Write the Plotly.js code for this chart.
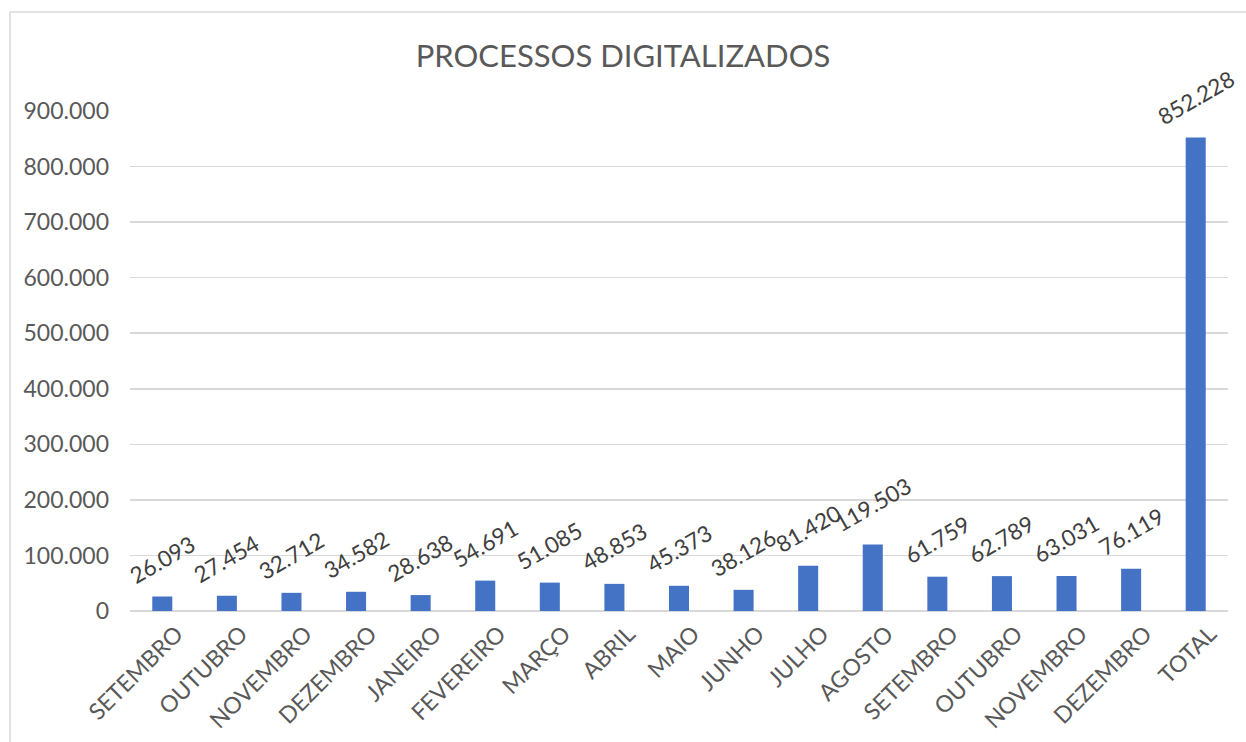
<!DOCTYPE html>
<html>
<head>
<meta charset="utf-8">
<script src="https://cdn.plot.ly/plotly-3.0.1.min.js"></script>
<style>
html,body{margin:0;padding:0;background:#fff;}
#chart{width:1246px;height:742px;}
</style>
</head>
<body>
<div id="chart"></div>
<script>
const months = ["SETEMBRO","OUTUBRO","NOVEMBRO","DEZEMBRO","JANEIRO","FEVEREIRO","MARÇO","ABRIL","MAIO","JUNHO","JULHO","AGOSTO","SETEMBRO","OUTUBRO","NOVEMBRO","DEZEMBRO","TOTAL"];
const values = [26093,27454,32712,34582,28638,54691,51085,48853,45373,38126,81420,119503,61759,62789,63031,76119,852228];
const yTickVals = [0,100000,200000,300000,400000,500000,600000,700000,800000,900000];
const yTickText = ["0","100.000","200.000","300.000","400.000","500.000","600.000","700.000","800.000","900.000"];

function fmt(v){ return v.toString().replace(/\B(?=(\d{3})+(?!\d))/g, "."); }

const idx = months.map((m,i)=>i);
const FONT = "Lato, 'Open Sans', sans-serif";

const trace = {
  type: "bar",
  x: idx,
  y: values,
  width: 0.31,
  marker: {color: "#4472C4"},
  hoverinfo: "none"
};

const annotations = values.map((v,i)=>({
  x: i, y: v, xref: "x", yref: "y",
  text: fmt(v),
  showarrow: false,
  textangle: -30,
  xanchor: "center", yanchor: "bottom",
  yshift: 5,
  font: {family: FONT, size: 22.5, color: "#404040"}
}));

const layout = {
  width: 1246, height: 742,
  margin: {l: 130, r: 18, t: 111, b: 131},
  paper_bgcolor: "#fff", plot_bgcolor: "#fff",
  showlegend: false,
  title: {
    text: "PROCESSOS DIGITALIZADOS",
    font: {family: FONT, size: 31, color: "#595959"},
    x: 0.5, xanchor: "center", y: 0.925, yanchor: "middle"
  },
  xaxis: {
    tickmode: "array", tickvals: idx, ticktext: months,
    tickangle: -45,
    range: [-0.5, months.length - 0.5],
    showgrid: false, zeroline: false, showline: false, ticks: "",
    ticklabelstandoff: 4,
    ticklabelshift: 14,
    tickfont: {family: FONT, size: 23, color: "#595959"}
  },
  yaxis: {
    range: [0, 900000],
    tickmode: "array", tickvals: yTickVals, ticktext: yTickText,
    showgrid: true, gridcolor: "#d9d9d9", gridwidth: 1.5,
    zeroline: true, zerolinecolor: "#d9d9d9", zerolinewidth: 1.5,
    showline: false, ticks: "", ticklabelstandoff: 20,
    tickfont: {family: FONT, size: 23, color: "#595959"}
  },
  annotations: annotations,
  shapes: [{
    type: "rect", xref: "paper", yref: "paper",
    x0: (10-130)/1098, x1: (1250-130)/1098,
    y0: (611-746)/500, y1: (611-12)/500,
    line: {color: "#d9d9d9", width: 1.5}, fillcolor: "rgba(0,0,0,0)", layer: "below"
  }]
};

Plotly.newPlot("chart", [trace], layout, {displayModeBar: false, staticPlot: true});
</script>
</body>
</html>
